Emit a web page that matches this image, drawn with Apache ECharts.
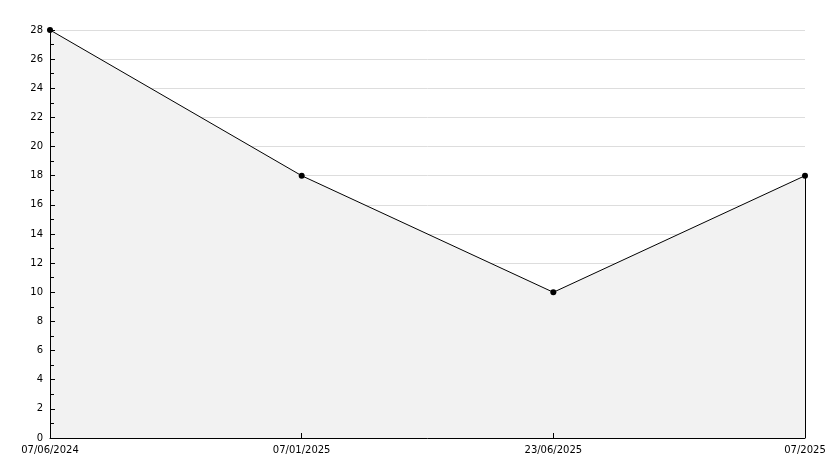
<!DOCTYPE html>
<html>
<head>
<meta charset="utf-8">
<script src="https://cdn.jsdelivr.net/npm/echarts@6/dist/echarts.min.js"></script>
<style>html,body{margin:0;padding:0;background:#fff}#c{width:834px;height:468px}</style>
</head>
<body>
<div id="c"></div>
<script>
const categories = ['07/06/2024', '07/01/2025', '23/06/2025', '07/2025'];
const values = [28, 18, 10, 18];
const yMin = 0, yMax = 28, yInterval = 2;

const lastIdx = values.length - 1;
const chart = echarts.init(document.getElementById('c'), null, {renderer: 'canvas'});
chart.setOption({
  animation: false,
  backgroundColor: '#ffffff',
  grid: {left: 50, right: 29, top: 30, bottom: 30, containLabel: false},
  xAxis: {
    type: 'category',
    data: categories,
    boundaryGap: false,
    z: 5,
    axisLine: {show: true, lineStyle: {color: '#000', width: 1}},
    axisTick: {show: true, inside: true, length: 5, lineStyle: {color: '#000'}},
    axisLabel: {color: '#000', fontFamily: 'DejaVu Sans', fontSize: 10, margin: 7, showMinLabel: true, showMaxLabel: true, interval: 0},
    splitLine: {show: false}
  },
  yAxis: [{
    type: 'value',
    min: yMin, max: yMax, interval: yInterval,
    z: 0,
    axisLine: {show: false},
    axisTick: {show: false},
    axisLabel: {show: false},
    splitLine: {show: true, lineStyle: {color: '#dddddd', width: 1}}
  }, {
    type: 'value',
    position: 'left',
    min: yMin, max: yMax, interval: yInterval,
    z: 5,
    axisLine: {show: true, lineStyle: {color: '#000', width: 1}},
    axisTick: {show: true, inside: true, length: 5, lineStyle: {color: '#000'}},
    minorTick: {show: true, splitNumber: 2, length: 4, lineStyle: {color: '#000'}},
    axisLabel: {color: '#000', fontFamily: 'DejaVu Sans', fontSize: 10, margin: 7},
    splitLine: {show: false}
  }],
  series: [{
    type: 'line',
    yAxisIndex: 0,
    data: values,
    symbol: 'circle',
    symbolSize: 6,
    itemStyle: {color: '#000'},
    lineStyle: {color: '#000', width: 1},
    areaStyle: {color: '#f2f2f2', opacity: 1},
    z: 2,
    markLine: {
      silent: true,
      symbol: ['none', 'none'],
      label: {show: false},
      lineStyle: {color: '#000', width: 1, type: 'solid'},
      data: [[
        {coord: [categories[lastIdx], values[lastIdx]]},
        {coord: [categories[lastIdx], yMin]}
      ]]
    }
  }]
});
</script>
</body>
</html>
